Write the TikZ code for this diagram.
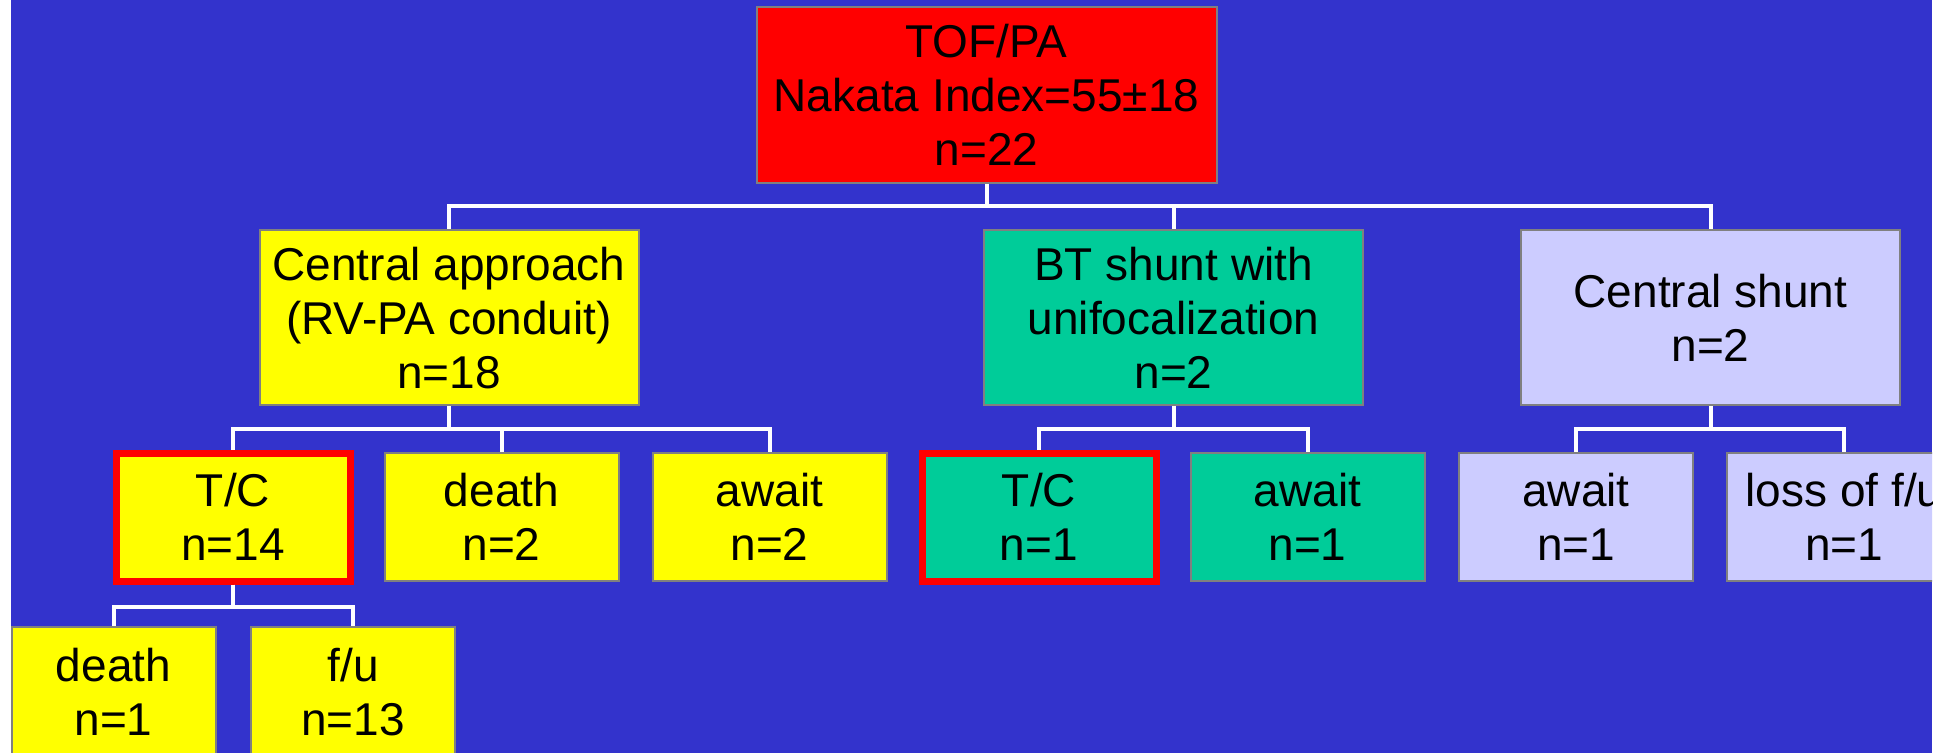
\documentclass[tikz,border=0pt]{standalone}
\usepackage{fontspec}
\setmainfont{Liberation Sans}
\definecolor{slideblue}{HTML}{3333CC}
\definecolor{boxred}{HTML}{FF0000}
\definecolor{boxyel}{HTML}{FFFF00}
\definecolor{boxgrn}{HTML}{00CC99}
\definecolor{boxlav}{HTML}{CCCCFF}
\definecolor{boxgray}{HTML}{808080}
\begin{document}
\begin{tikzpicture}[x=0.5pt,y=-0.5pt]
\tikzset{box/.style={draw=boxgray,line width=1pt,align=center,inner sep=0pt,
  font=\fontsize{23}{27}\selectfont}}
\tikzset{top/.style={box,fill=boxred,minimum width=230pt,minimum height=88pt}}
\tikzset{mid/.style={box,minimum width=189.5pt,minimum height=87.5pt}}
\tikzset{leaf/.style={box,minimum width=117pt,minimum height=64pt}}
\tikzset{low/.style={box,minimum width=102pt,minimum height=65pt}}
\tikzset{tcbox/.style={draw=boxred,line width=3.5pt}}
\tikzset{link/.style={draw=white,line width=2pt}}
\useasboundingbox (0,0) rectangle (1937,753);
\fill[white] (0,0) rectangle (1937,753);
\fill[slideblue] (11,0) rectangle (1932,753);
\begin{scope}
\clip (11,0) rectangle (1932,753);
\node[top] (root) at (986.5,95) {TOF/PA\\Nakata Index=55±18\\n=22};
\node[mid,fill=boxyel] (ca) at (449,318) {Central approach\\(RV-PA conduit)\\n=18};
\node[mid,fill=boxgrn] (bt) at (1173.5,318) {BT shunt with\\unifocalization\\n=2};
\node[mid,fill=boxlav] (cs) at (1710.5,318) {Central shunt\\n=2};
\node[leaf,fill=boxyel,tcbox] (tc) at (233,517) {T/C\\n=14};
\node[leaf,fill=boxyel] (cadeath) at (501.5,517) {death\\n=2};
\node[leaf,fill=boxyel] (caawait) at (769.5,517) {await\\n=2};
\node[leaf,fill=boxgrn,tcbox] (bttc) at (1039,517) {T/C\\n=1};
\node[leaf,fill=boxgrn] (btawait) at (1307.5,517) {await\\n=1};
\node[leaf,fill=boxlav] (csawait) at (1576,517) {await\\n=1};
\node[leaf,fill=boxlav] (csloss) at (1844,517) {loss of f/u\\n=1};
\node[low,fill=boxyel] (tcdeath) at (113.5,692) {death\\n=1};
\node[low,fill=boxyel] (tcfu) at (353,692) {f/u\\n=13};
\foreach \p/\c in {root/ca,root/bt,root/cs,ca/tc,ca/cadeath,ca/caawait,bt/bttc,
  bt/btawait,cs/csawait,cs/csloss,tc/tcdeath,tc/tcfu}
  \draw[link] (\p.south) -- ++(0,22) -| (\c.north);
\end{scope}
\end{tikzpicture}
\end{document}
